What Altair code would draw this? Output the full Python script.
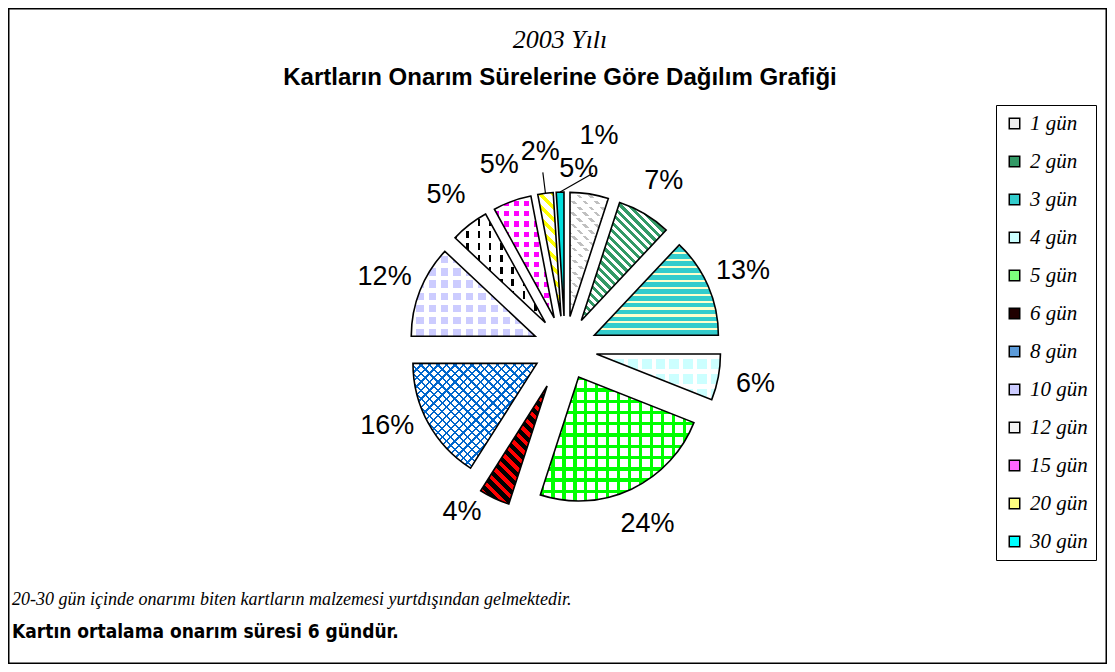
import math
import altair as alt
import pandas as pd

# ---------------- data ----------------
categories = ["1 gün", "2 gün", "3 gün", "4 gün", "5 gün", "6 gün",
              "8 gün", "10 gün", "12 gün", "15 gün", "20 gün", "30 gün"]
percents = [5, 7, 13, 6, 24, 4, 16, 12, 5, 5, 2, 1]
pct_labels = ["5%", "7%", "13%", "6%", "24%", "4%", "16%", "12%", "5%", "5%", "2%", "1%"]

title_top = "2003 Yılı"
title_main = "Kartların Onarım Sürelerine Göre Dağılım Grafiği"
note_1 = "20-30 gün içinde onarımı biten kartların malzemesi yurtdışından gelmektedir."
note_2 = "Kartın ortalama onarım süresi 6 gündür."

# ---------------- styles ----------------
W, H = 1099, 656
CX, CY = 557, 340
R = 124
CLEAR = "rgba(255,255,255,0)"

legend_colors = ["#eeeeee", "#339966", "#33cccc", "#ccffff", "#7dff7d", "#200000",
                 "#5c9bd9", "#ccccff", "#f4f4f4", "#ff66ff", "#ffff80", "#00ffff"]

# background colour + overlays (colour, period px, fraction, normal angle deg)
patterns = {
    "1 gün": ("#ffffff", [("#c0c0c0", 8, 0.3, -45), ("#ffffff", 6, 0.4, 90)]),
    "2 gün": ("#ffffff", [("#339966", 6, 0.5, -45)]),
    "3 gün": ("#33cccc", [("#ffffcc", 7, 0.3, 90)]),
    "4 gün": ("#ccffff", [("#ffffff", 14, 0.3, 0), ("#ffffff", 14, 0.3, 90)]),
    "5 gün": ("#ffffff", [("#00ff00", 11, 0.3, 0), ("#00ff00", 11, 0.3, 90)]),
    "6 gün": ("#000000", [("#ff0000", 8, 0.45, -45)]),
    "8 gün": ("#ffffff", [("#0066cc", 6, 0.28, -45), ("#0066cc", 6, 0.28, 45)]),
    "10 gün": ("#ccccff", [("#ffffff", 12, 0.4, 0), ("#ffffff", 12, 0.4, 90)]),
    "12 gün": ("#ffffff", [("#000000", 12, 0.22, 0), ("#ffffff", 12, 0.4, 90)]),
    "15 gün": ("#ffffff", [("#ff00ff", 10, 0.5, 0), ("#ffffff", 10, 0.5, 90)]),
    "20 gün": ("#ffffff", [("#ffff00", 9, 0.4, -45)]),
    "30 gün": ("#00dddd", []),
}


def slice_bbox(p0, p1):
    a0 = p0 / 100 * 2 * math.pi
    a1 = p1 / 100 * 2 * math.pi
    pts = [(0.0, 0.0), (R * math.sin(a0), -R * math.cos(a0)), (R * math.sin(a1), -R * math.cos(a1))]
    for k in range(5):
        a = k * math.pi / 2
        if a0 < a < a1:
            pts.append((R * math.sin(a), -R * math.cos(a)))
    xs = [p[0] for p in pts]
    ys = [p[1] for p in pts]
    return max(xs) - min(xs), max(ys) - min(ys)


def stripe_gradient(color, period, frac, angle_deg, w, h):
    ang = math.radians(angle_deg)
    nx, ny = math.cos(ang), math.sin(ang)
    a, b = nx * w, ny * h
    k = (abs(a) + abs(b)) / (a * a + b * b)
    dx, dy = k * a, k * b
    length = abs(nx) * w + abs(ny) * h
    n = max(1, int(round(length / period)))
    stops = []
    for i in range(n):
        s0 = i / n
        s1 = (i + frac) / n
        e = (i + 1) / n
        for off, col in ((s0, color), (s1, color), (s1, CLEAR), (e, CLEAR)):
            stops.append(alt.GradientStop(color=col, offset=round(off, 5)))
    return alt.LinearGradient(gradient="linear", stops=stops,
                              x1=0.5 - dx / 2, y1=0.5 - dy / 2,
                              x2=0.5 + dx / 2, y2=0.5 + dy / 2)


df = pd.DataFrame({"cat": categories, "pct": percents, "lab": pct_labels,
                   "order": list(range(len(categories)))})

base = alt.Chart(df).transform_window(
    cum="sum(pct)", sort=[alt.SortField("order")], frame=[None, 0]
).transform_calculate(
    start="datum.cum - datum.pct",
    mid="(datum.cum - datum.pct / 2) * 2 * PI / 100",
    d="datum.cat == '6 gün' ? 42 : 32",
).transform_calculate(
    ox=f"{CX} + datum.d * sin(datum.mid)",
    oy=f"{CY} - datum.d * cos(datum.mid)",
)

theta = alt.Theta("start:Q", stack=None, scale=alt.Scale(domain=[0, 100], range=[0, 2 * math.pi]))
theta2 = alt.Theta2("cum:Q")
xo = alt.X("ox:Q", scale=None, axis=None)
yo = alt.Y("oy:Q", scale=None, axis=None)

layers = []
cum = 0
for c, p in zip(categories, percents):
    w, h = slice_bbox(cum, cum + p)
    cum += p
    sl = base.transform_filter(alt.datum.cat == c)
    layers.append(sl.mark_arc(radius=R, fill=patterns[c][0], strokeWidth=0).encode(
        theta=theta, theta2=theta2, x=xo, y=yo))
    for (col, period, frac, ang) in patterns[c][1]:
        grad = stripe_gradient(col, period, frac, ang, w, h)
        layers.append(sl.mark_arc(radius=R, fill=grad, strokeWidth=0).encode(
            theta=theta, theta2=theta2, x=xo, y=yo))

layers.append(base.mark_arc(radius=R, fillOpacity=0, stroke="black", strokeWidth=1.6).encode(
    theta=theta, theta2=theta2, x=xo, y=yo))

# percentage labels
lab_layer = base.transform_calculate(
    la="datum.mid + (datum.cat == '30 gün' ? 0.19 : datum.cat == '1 gün' ? -0.08 : "
       "datum.cat == '6 gün' ? 0.12 : datum.cat == '8 gün' ? 0.09 : 0)",
    lr="datum.cat == '30 gün' ? 215 : datum.cat == '1 gün' ? 180 : datum.cat == '20 gün' ? 198 : 194",
).transform_calculate(
    lx=f"{CX} + datum.lr * sin(datum.la)",
    ly=f"{CY} - datum.lr * cos(datum.la)",
    ex=f"{CX} + 177 * sin(datum.la)",
    ey=f"{CY} - 177 * cos(datum.la)",
    sx=f"{CX} + (datum.d + {R}) * sin(datum.mid)",
    sy=f"{CY} - (datum.d + {R}) * cos(datum.mid)",
)
layers.append(lab_layer.mark_text(font="Liberation Sans", fontSize=27, color="black").encode(
    x=alt.X("lx:Q", scale=None, axis=None), y=alt.Y("ly:Q", scale=None, axis=None), text="lab:N"))
layers.append(lab_layer.transform_filter("datum.cat == '20 gün' || datum.cat == '30 gün'").mark_rule(
    color="black", strokeWidth=1.2).encode(
    x=alt.X("sx:Q", scale=None, axis=None), y=alt.Y("sy:Q", scale=None, axis=None),
    x2="ex:Q", y2="ey:Q"))

# legend
layers.append(alt.Chart(df).mark_square(opacity=0, size=1).encode(
    x=alt.value(0), y=alt.value(0),
    color=alt.Color("cat:N", scale=alt.Scale(domain=categories, range=legend_colors),
                    legend=alt.Legend(orient="none", legendX=988, legendY=97, title=None,
                                      symbolType="square", symbolSize=110, symbolOpacity=1,
                                      symbolStrokeColor="black", symbolStrokeWidth=1.5,
                                      labelFont="Liberation Serif", labelFontStyle="italic",
                                      labelFontSize=21, labelColor="black", labelOffset=5,
                                      labelExpr="datum.label + '    '",
                                      rowPadding=16, padding=8, strokeColor="black"))))

# texts
def text_layer(txt, x, y, **kw):
    return alt.Chart(pd.DataFrame({"t": [txt]})).mark_text(**kw).encode(
        text="t:N", x=alt.value(x), y=alt.value(y))

layers.append(text_layer(title_top, 552, 32, font="Liberation Serif", fontStyle="italic",
                         fontSize=26, color="black"))
layers.append(text_layer(title_main, 552, 70, font="Liberation Sans", fontWeight="bold",
                         fontSize=24, color="black"))
layers.append(text_layer(note_1, 4, 592, font="Liberation Serif", fontStyle="italic",
                         fontSize=18, color="black", align="left"))
layers.append(text_layer(note_2, 4, 624,
                         font="'Liberation Sans Narrow', 'DejaVu Sans Condensed', 'Liberation Sans', sans-serif",
                         fontWeight="bold", fontSize=19, color="black", align="left"))

chart = alt.layer(*layers).properties(
    width=W, height=H, autosize="none", padding=0
).configure_view(stroke="black", strokeWidth=3)

chart.save("out.html", embed_options={"renderer": "svg", "actions": False})
